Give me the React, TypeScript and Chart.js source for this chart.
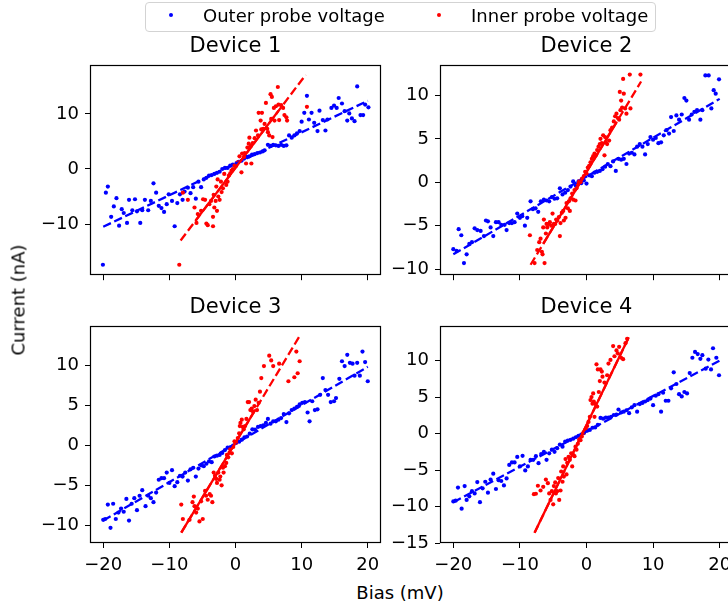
import React, { useEffect, useRef } from 'react';
import { Chart, registerables } from 'chart.js';

Chart.register(...registerables);

type Pt = [number, number];

const xTickValues = [-20, -10, 0, 10, 20];

// ---------- Device 1 ----------
const d1Outer: Pt[] = [
  [-20.05, -17.4], [-19.6, -4.3], [-19.3, -3.2], [-18.8, -8.7], [-18.4, -6.8], [-18.0, -5.3], [-17.6, -10.3], [-17.2, -7.3],
  [-16.9, -8.0], [-16.4, -9.8], [-16.1, -5.6], [-15.6, -7.5], [-15.2, -5.5], [-14.9, -7.7], [-14.4, -9.8], [-14.1, -7.5],
  [-13.7, -5.6], [-13.2, -7.5], [-12.8, -5.8], [-12.4, -2.6], [-12.0, -4.3], [-11.6, -6.7], [-11.2, -7.1], [-10.8, -7.8],
  [-10.4, -6.4], [-10.1, -4.6], [-9.6, -5.8], [-9.2, -10.4], [-8.8, -6.2], [-8.4, -4.6], [-8.0, -5.6], [-7.7, -4.1],
  [-7.2, -3.4], [-6.8, -4.4], [-6.4, -3.3], [-6.0, -5.4], [-5.6, -2.3], [-5.2, -3.3], [-4.8, -1.9], [-4.4, -1.6],
  [-4.0, -1.2], [-3.6, -1.1], [-3.2, -0.9], [-2.8, -0.7], [-2.4, -0.5], [-2.0, 0], [-1.6, 0.2], [-1.2, 0.2],
  [-0.8, 0.6], [-0.4, 0.8], [0.15, 1.05], [0.45, 1.3], [0.9, 1.5], [1.3, 1.9], [1.7, 2.2], [2.1, 2.3],
  [2.5, 2.6], [2.9, 2.7], [3.3, 2.9], [3.7, 3.0], [4.1, 3.2], [4.4, 3.4], [4.9, 4.4], [5.3, 4.2],
  [5.7, 4.4], [6.1, 4.3], [6.5, 4.2], [6.9, 4.4], [7.3, 4.2], [7.7, 4.3], [8.1, 6.1], [8.5, 5.7],
  [8.9, 6.1], [9.3, 6.5], [9.7, 6.9], [10.0, 8.6], [10.4, 10.2], [10.8, 13.3], [11.1, 9.0], [11.5, 10.2],
  [11.9, 8.4], [12.4, 6.9], [12.7, 10.6], [13.2, 8.9], [13.6, 7.0], [13.9, 9.0], [14.5, 11.1], [14.9, 11.5],
  [15.3, 11.1], [15.6, 12.9], [16.1, 11.9], [16.5, 10.5], [16.9, 8.8], [17.2, 10.1], [17.6, 9.2], [18.0, 8.7],
  [18.4, 15.0], [18.9, 9.8], [19.3, 9.8], [19.6, 11.7], [20.1, 11.2],
];
const d1Inner: Pt[] = [
  [-8.5, -17.4], [-7.96, -4.3], [-7.2, -5.6], [-6.2, -7.0], [-5.9, -9.8], [-5.7, -8.2], [-5.2, -7.6], [-4.9, -5.5],
  [-4.6, -5.6], [-4.4, -9.9], [-4.2, -10.2], [-3.95, -6.4], [-3.7, -5.8], [-3.4, -8.7], [-3.4, -10.4], [-3.3, -4.7],
  [-3.2, -7.0], [-3.0, -5.8], [-2.9, -3.2], [-2.8, -7.6], [-2.7, -1.9], [-2.6, -5.0], [-2.4, -5.6], [-2.2, -2.3],
  [-2.1, -4.2], [-1.9, -3.5], [-1.7, -0.9], [-1.4, -2.9], [-1.2, -2.3], [-1.0, -1.2], [-0.8, -0.8], [-0.6, -0.3],
  [-0.4, 0], [-0.15, 0.6], [0.1, 0.6], [0.35, 1.2], [0.6, 2.3], [0.9, -0.6], [1.0, 2.8], [1.3, 2.2],
  [1.4, 2.9], [1.6, 1.0], [1.8, 3.9], [2.0, 4.6], [2.1, 5.7], [2.3, 4.2], [2.4, 1.0], [2.6, 4.7],
  [2.9, 5.6], [3.1, 7.0], [3.4, 6.1], [3.5, 10.2], [3.8, 8.8], [3.9, 7.2], [4.0, 10.2], [4.2, 7.3],
  [4.4, 8.2], [4.6, 12.0], [4.8, 7.3], [4.9, 6.7], [5.1, 6.1], [5.3, 13.6], [5.4, 9.1], [5.5, 13.1],
  [5.6, 5.8], [5.8, 11.1], [5.9, 8.8], [6.1, 11.4], [6.4, 14.9], [6.5, 11.7], [6.6, 8.9], [6.9, 11.6],
  [7.2, 11.1], [7.4, 9.8], [7.7, 9.4], [7.8, 8.8], [10.8, 11.3],
];
const d1OuterFit: Pt[] = [[-20, -10.5], [20, 12.4]];
const d1InnerFitDashed: Pt[] = [[-8.3, -13.0], [10.6, 17.1]];
const d1InnerFitSolid: Pt[] = [[-6.0, -9.34], [6.5, 10.58]];
const d1YTicks = [-10, 0, 10];

// ---------- Device 2 ----------
const d2Outer: Pt[] = [
  [-20, -7.7], [-19.5, -7.9], [-19.2, -5.4], [-18.8, -6.1], [-18.4, -9.3], [-18.0, -8.3], [-17.6, -7.1], [-17.2, -6.9],
  [-16.8, -5.3], [-16.4, -5.5], [-15.9, -5.6], [-15.4, -6.2], [-15.1, -4.4], [-14.8, -4.5], [-14.4, -5.2], [-14.0, -6.2],
  [-13.6, -4.6], [-13.2, -4.6], [-12.8, -4.9], [-12.3, -4.9], [-12.0, -5.5], [-11.6, -4.7], [-11.2, -4.7], [-10.8, -4.6],
  [-10.4, -3.6], [-10.0, -4.1], [-9.65, -3.9], [-9.25, -5.0], [-8.9, -4.1], [-8.4, -2.2], [-8.05, -3.1], [-7.65, -3.0],
  [-7.25, -3.4], [-6.85, -2.2], [-6.4, -2.0], [-6.0, -2.1], [-5.6, -2.2], [-5.2, -1.7], [-4.8, -1.9], [-4.4, -1.85],
  [-4.0, -0.7], [-3.6, -1.4], [-3.2, -1.2], [-2.8, -0.9], [-2.4, -0.5], [-2.0, 0.1], [-1.6, -0.4], [-1.2, 0.1],
  [-0.8, -0.1], [-0.4, 0.2], [0, -0.15], [0.4, 0.8], [0.8, 0.7], [1.2, 1.1], [1.6, 1.2], [2.0, 1.3],
  [2.4, 1.5], [2.8, 1.8], [3.2, 2.1], [3.6, 1.85], [4.0, 2.4], [4.4, 1.3], [4.8, 2.7], [5.2, 2.6],
  [5.6, 2.7], [6.0, 2.1], [6.4, 3.3], [6.8, 3.4], [7.2, 3.2], [7.6, 4.1], [8.0, 4.4], [8.4, 4.1],
  [8.8, 3.2], [9.2, 4.4], [9.6, 5.2], [10.0, 4.9], [10.4, 5.1], [10.8, 4.5], [11.2, 4.6], [11.6, 5.4],
  [12.0, 6.0], [12.4, 5.6], [12.7, 7.5], [13.1, 5.9], [13.5, 7.7], [13.9, 7.2], [14.3, 7.8], [14.7, 9.7],
  [15.0, 9.4], [15.4, 7.2], [15.8, 7.8], [16.2, 8.1], [16.6, 8.3], [17.1, 7.2], [17.4, 8.3], [17.85, 12.3],
  [18.35, 12.3], [18.75, 8.5], [19.1, 10.6], [19.4, 10.2], [19.9, 11.85],
];
const d2Inner: Pt[] = [
  [-8.5, -6.1], [-7.8, -9.3], [-7.4, -7.8], [-7.1, -6.9], [-6.9, -6.5], [-6.7, -8.0], [-6.6, -8.3], [-6.5, -5.2],
  [-6.4, -4.3], [-6.3, -9.3], [-6.1, -5.9], [-6.0, -4.8], [-5.9, -5.2], [-5.7, -4.8], [-5.5, -4.6], [-5.3, -5.0],
  [-5.1, -3.6], [-4.9, -4.8], [-4.7, -4.8], [-4.55, -4.3], [-4.4, -4.4], [-4.15, -4.0], [-4.0, -6.2], [-3.9, -4.7],
  [-3.7, -3.5], [-3.5, -3.3], [-3.4, -4.4], [-3.15, -4.1], [-3.0, -2.4], [-2.8, -3.0], [-2.65, -2.2], [-2.5, -3.3],
  [-2.4, -1.85], [-2.15, -1.3], [-2.0, -2.0], [-1.8, -0.9], [-1.65, -2.1], [-1.5, -0.7], [-1.3, -0.2], [-1.1, 0.1],
  [-0.9, 0], [-0.7, 0.4], [-0.4, 0.7], [-0.2, 1.2], [0, 1.0], [0.2, 1.7], [0.4, 1.9], [0.6, 2.3],
  [0.8, 2.7], [1.0, 3.0], [1.2, 3.3], [1.4, 3.1], [1.6, 3.7], [1.8, 4.1], [2.0, 4.4], [2.1, 5.0],
  [2.3, 4.5], [2.5, 5.4], [2.7, 3.1], [2.8, 5.2], [2.9, 4.6], [3.1, 4.4], [3.4, 4.8], [3.6, 6.0],
  [3.85, 6.3], [4.1, 7.0], [4.3, 7.6], [4.5, 7.9], [4.7, 7.4], [4.9, 7.2], [5.0, 10.4], [5.1, 8.3],
  [5.2, 9.4], [5.35, 8.6], [5.5, 11.9], [5.6, 10.2], [5.8, 8.5], [6.0, 7.9], [6.5, 12.4], [6.6, 8.5],
  [8.1, 12.4],
];
const d2OuterFit: Pt[] = [[-20, -8.3], [20, 9.6]];
const d2InnerFitDashed: Pt[] = [[-8.4, -9.5], [8.2, 11.6]];
const d2InnerFitSolid: Pt[] = [[-6.5, -7.09], [4.5, 6.9]];
const d2YTicks = [-10, -5, 0, 5, 10];

// ---------- Device 3 ----------
const d3Outer: Pt[] = [
  [-20, -9.3], [-19.7, -9.2], [-19.3, -7.4], [-18.9, -10.3], [-18.5, -7.3], [-18.1, -9.2], [-17.7, -8.4], [-17.3, -7.9],
  [-16.9, -8.3], [-16.5, -6.7], [-16.1, -9.4], [-15.7, -7.3], [-15.3, -6.6], [-14.9, -8.1], [-14.5, -6.3], [-14.1, -5.6],
  [-13.6, -7.6], [-13.2, -6.3], [-12.8, -6.6], [-12.4, -7.1], [-12.0, -5.9], [-11.6, -4.3], [-11.2, -4.1], [-10.8, -4.1],
  [-10.4, -3.4], [-10.0, -4.7], [-9.6, -3.1], [-9.2, -5.1], [-8.8, -4.6], [-8.4, -3.8], [-8.0, -3.9], [-7.6, -3.4],
  [-7.2, -4.4], [-6.8, -3.0], [-6.4, -2.8], [-6.0, -3.9], [-5.6, -2.9], [-5.2, -2.5], [-4.8, -2.6], [-4.4, -2.3],
  [-4.0, -2.0], [-3.6, -2.1], [-3.2, -1.4], [-2.8, -1.3], [-2.4, -1.2], [-2.0, -0.95], [-1.6, -0.6], [-1.2, -0.3],
  [-0.8, -0.25], [-0.35, -0.05], [0.15, 0.4], [0.55, 0.45], [0.95, 0.7], [1.35, 1.0], [1.75, 1.1], [2.15, 1.45],
  [2.55, 2.0], [2.95, 1.95], [3.4, 2.3], [3.8, 2.4], [4.2, 2.5], [4.6, 2.8], [4.9, 3.3], [5.3, 2.7],
  [5.7, 3.0], [6.1, 3.0], [6.5, 3.2], [6.9, 3.4], [7.3, 3.9], [7.7, 2.9], [8.1, 4.0], [8.5, 4.4],
  [8.9, 4.6], [9.3, 4.8], [9.7, 5.1], [10.1, 5.3], [10.5, 5.4], [10.9, 4.1], [11.2, 3.0], [11.6, 5.5],
  [12.0, 4.4], [12.4, 4.5], [12.8, 6.3], [13.2, 8.4], [13.6, 6.9], [14.0, 6.3], [14.4, 5.4], [14.9, 5.5],
  [15.2, 5.9], [15.7, 8.3], [16.1, 10.5], [16.5, 9.9], [16.9, 11.3], [17.3, 10.3], [17.7, 10.2], [18.0, 8.7],
  [18.4, 10.3], [18.8, 8.7], [19.2, 11.7], [19.6, 10.4], [20.0, 8.0],
];
const d3Inner: Pt[] = [
  [-8.2, -7.4], [-7.96, -9.2], [-6.95, -9.3], [-6.5, -7.1], [-6.3, -6.4], [-6.2, -7.6], [-5.95, -8.4], [-5.7, -7.9],
  [-5.45, -9.5], [-5.2, -7.0], [-4.95, -9.2], [-4.6, -5.7], [-4.45, -6.3], [-4.2, -6.8], [-3.9, -6.1], [-3.7, -6.3],
  [-3.5, -7.1], [-3.3, -3.4], [-3.1, -3.8], [-2.9, -4.2], [-2.8, -4.7], [-2.6, -3.4], [-2.4, -4.3], [-2.3, -3.9],
  [-2.1, -5.0], [-1.9, -2.8], [-1.8, -3.4], [-1.6, -2.6], [-1.4, -2.2], [-1.3, -1.2], [-1.1, -1.5], [-0.9, -0.9],
  [-0.8, -0.5], [-0.55, -1.0], [-0.35, -0.2], [-0.15, 0.5], [0.1, 0.3], [0.35, 0.9], [0.55, 1.5], [0.65, 2.4],
  [0.75, 2.8], [0.95, 3.2], [1.1, 2.3], [1.25, 2.0], [1.45, 2.4], [1.65, 3.3], [1.85, 5.4], [2.05, 5.4],
  [2.25, 4.4], [2.45, 4.6], [2.65, 4.2], [2.85, 4.9], [3.05, 5.7], [3.25, 4.4], [3.5, 5.3], [3.7, 6.7],
  [3.9, 8.4], [4.3, 9.9], [5.1, 11.2], [5.4, 10.6], [5.7, 9.9], [6.6, 10.2], [8.0, 8.0], [8.9, 8.5],
  [9.2, 11.7], [9.4, 9.0], [9.7, 10.5],
];
const d3OuterFit: Pt[] = [[-20, -9.4], [20, 9.8]];
const d3InnerFitDashed: Pt[] = [[-8.2, -10.9], [9.7, 13.65]];
const d3InnerFitSolid: Pt[] = [[-8.2, -10.9], [3.0, 4.46]];
const d3YTicks = [-10, -5, 0, 5, 10];

// ---------- Device 4 ----------
const d4Outer: Pt[] = [
  [-20, -9.3], [-19.65, -9.2], [-19.3, -7.4], [-18.75, -10.3], [-18.3, -7.2], [-18.0, -9.1], [-17.6, -8.6], [-17.2, -7.9],
  [-16.8, -8.2], [-16.4, -6.65], [-16.0, -9.4], [-15.6, -7.5], [-15.2, -6.6], [-14.8, -8.1], [-14.4, -6.3], [-14.0, -5.5],
  [-13.6, -7.6], [-13.2, -6.4], [-12.8, -6.5], [-12.4, -7.1], [-12.0, -6.15], [-11.6, -4.3], [-11.2, -3.95], [-10.8, -3.95],
  [-10.4, -3.2], [-10.0, -4.5], [-9.6, -3.05], [-9.2, -5.05], [-8.8, -4.5], [-8.4, -3.6], [-8.0, -3.6], [-7.6, -3.1],
  [-7.2, -4.05], [-6.8, -2.8], [-6.4, -2.5], [-6.0, -3.6], [-5.6, -2.7], [-5.2, -2.2], [-4.8, -2.5], [-4.4, -2.0],
  [-4.0, -1.5], [-3.6, -1.8], [-3.2, -1.1], [-2.8, -0.95], [-2.4, -0.85], [-2.0, -0.7], [-1.6, -0.5], [-1.2, -0.3],
  [-0.8, -0.15], [-0.4, 0.05], [0.1, 0.4], [0.5, 0.5], [0.9, 0.8], [1.3, 0.85], [1.7, 1.2], [2.1, 2.15],
  [2.5, 2.05], [2.9, 2.2], [3.3, 2.2], [3.7, 2.3], [4.1, 2.55], [4.5, 2.6], [4.8, 3.3], [5.2, 2.9],
  [5.6, 3.0], [6.0, 3.2], [6.4, 2.8], [6.8, 3.6], [7.2, 3.9], [7.6, 3.0], [8.0, 4.05], [8.4, 4.2],
  [8.8, 4.4], [9.2, 4.6], [9.6, 4.8], [10.0, 3.9], [10.4, 5.2], [10.8, 5.4], [11.2, 3.0], [11.5, 5.6],
  [11.9, 4.5], [12.3, 4.5], [12.7, 6.2], [13.1, 8.4], [13.5, 6.8], [13.9, 5.4], [14.3, 5.1], [14.7, 5.7],
  [15.1, 5.5], [15.5, 8.3], [15.9, 10.4], [16.3, 11.2], [16.7, 10.9], [17.1, 10.25], [17.4, 10.75], [17.9, 8.9],
  [18.3, 10.15], [18.7, 8.8], [19.0, 11.7], [19.5, 10.4], [19.9, 8.0],
];
const d4Inner: Pt[] = [
  [-7.9, -8.3], [-7.6, -8.25], [-7.3, -7.15], [-6.9, -7.8], [-6.5, -7.3], [-6.1, -6.3], [-5.8, -6.8], [-5.6, -8.2],
  [-5.4, -9.1], [-5.2, -7.9], [-5.0, -9.7], [-4.9, -7.2], [-4.7, -6.7], [-4.6, -8.2], [-4.4, -7.9], [-4.25, -6.1],
  [-4.1, -9.1], [-3.9, -7.8], [-3.8, -5.2], [-3.6, -6.6], [-3.5, -4.5], [-3.4, -5.9], [-3.15, -3.5], [-3.0, -5.6],
  [-2.9, -4.0], [-2.7, -3.2], [-2.5, -3.6], [-2.3, -2.7], [-2.15, -4.5], [-2.0, -2.9], [-1.8, -3.1], [-1.65, -1.8],
  [-1.5, -2.2], [-1.3, -1.4], [-1.1, -0.8], [-0.9, -0.9], [-0.7, -0.4], [-0.5, 0.05], [-0.3, 0.3], [-0.1, 0.7],
  [0.1, 1.05], [0.3, 1.6], [0.5, 2.3], [0.6, 4.6], [0.75, 5.0], [0.9, 4.1], [1.0, 5.5], [1.1, 4.4],
  [1.2, 2.3], [1.35, 4.05], [1.5, 9.5], [1.6, 3.7], [1.7, 8.8], [1.85, 5.7], [2.0, 7.2], [2.1, 8.8],
  [2.3, 8.5], [2.4, 7.8], [2.7, 7.0], [3.1, 8.0], [3.3, 9.6], [3.6, 10.1], [4.0, 12.0], [4.2, 10.6],
  [4.5, 11.4], [4.7, 11.0], [4.9, 11.9], [5.2, 10.4], [5.5, 10.2], [5.85, 12.4], [6.1, 13.0],
];
const d4OuterFit: Pt[] = [[-20, -9.4], [20, 10.0]];
const d4InnerFitDashed: Pt[] = [[-7.8, -13.6], [6.35, 13.2]];
const d4InnerFitSolid: Pt[] = [[-7.8, -13.6], [6.35, 13.2]];
const d4YTicks = [-15, -10, -5, 0, 5, 10];

const titles = ['Device 1', 'Device 2', 'Device 3', 'Device 4'];
const legendLabels = ['Outer probe voltage', 'Inner probe voltage'];
const xLabel = 'Bias (mV)';
const yLabel = 'Current (nA)';

const BLUE = '#0000ff';
const RED = '#ff0000';
const FONT = '"DejaVu Sans", sans-serif';

interface PanelSpec {
  title: string;
  outer: Pt[];
  inner: Pt[];
  outerFit: Pt[];
  innerDash: Pt[];
  innerSolid: Pt[];
  yTicks: number[];
  yMin: number;
  yMax: number;
  left: number;
  top: number;
  width: number;
  height: number;
  yAxisWidth: number;
  xAxisHeight: number;
  padRight: number;
  xLabels: boolean;
}

const panels: PanelSpec[] = [
  { title: titles[0], outer: d1Outer, inner: d1Inner, outerFit: d1OuterFit, innerDash: d1InnerFitDashed, innerSolid: d1InnerFitSolid,
    yTicks: d1YTicks, yMin: -19.3, yMax: 18.9, left: 0, top: 28, width: 390, height: 264, yAxisWidth: 90, xAxisHeight: 9, padRight: 9, xLabels: false },
  { title: titles[1], outer: d2Outer, inner: d2Inner, outerFit: d2OuterFit, innerDash: d2InnerFitDashed, innerSolid: d2InnerFitSolid,
    yTicks: d2YTicks, yMin: -10.7, yMax: 13.5, left: 390, top: 28, width: 350, height: 264, yAxisWidth: 50, xAxisHeight: 9, padRight: 7, xLabels: false },
  { title: titles[2], outer: d3Outer, inner: d3Inner, outerFit: d3OuterFit, innerDash: d3InnerFitDashed, innerSolid: d3InnerFitSolid,
    yTicks: d3YTicks, yMin: -12.2, yMax: 14.9, left: 0, top: 289, width: 390, height: 291, yAxisWidth: 90, xAxisHeight: 37, padRight: 9, xLabels: true },
  { title: titles[3], outer: d4Outer, inner: d4Inner, outerFit: d4OuterFit, innerDash: d4InnerFitDashed, innerSolid: d4InnerFitSolid,
    yTicks: d4YTicks, yMin: -15.0, yMax: 14.75, left: 390, top: 289, width: 350, height: 291, yAxisWidth: 50, xAxisHeight: 37, padRight: 7, xLabels: true },
];

const fmt = (v: number) => (v < 0 ? '\u2212' + Math.abs(v) : String(v));
const toXY = (pts: Pt[]) => pts.map(([x, y]) => ({ x, y }));

const framePlugin = {
  id: 'frame',
  afterDatasetsDraw(chart: any) {
    const { ctx, chartArea: a } = chart;
    ctx.save();
    ctx.strokeStyle = '#000';
    ctx.lineWidth = 1.2;
    ctx.strokeRect(Math.round(a.left) + 0.5, Math.round(a.top) + 0.5,
      Math.round(a.right - a.left) - 1, Math.round(a.bottom - a.top) - 1);
    ctx.restore();
  },
};

function Panel({ spec }: { spec: PanelSpec }) {
  const ref = useRef<HTMLCanvasElement | null>(null);
  useEffect(() => {
    if (!ref.current) return;
    const pointStyle = (color: string) => ({
      showLine: false, pointRadius: 2.1, pointHoverRadius: 2.1, pointBorderWidth: 0,
      backgroundColor: color, borderColor: color,
    });
    const lineStyle = (color: string, dash: number[]) => ({
      showLine: true, pointRadius: 0, pointHoverRadius: 0, borderWidth: 2.3, borderColor: color,
      backgroundColor: color, borderDash: dash, fill: false, tension: 0,
    });
    const tickFont = { family: FONT, size: 18 };
    const chart = new Chart(ref.current, {
      type: 'scatter',
      data: {
        datasets: [
          { label: legendLabels[0], data: toXY(spec.outer), order: 4, ...pointStyle(BLUE) },
          { label: legendLabels[1], data: toXY(spec.inner), order: 3, ...pointStyle(RED) },
          { label: 'outer fit', data: toXY(spec.outerFit), order: 2, ...lineStyle(BLUE, [8.5, 3.7]) },
          { label: 'inner fit', data: toXY(spec.innerDash), order: 1, ...lineStyle(RED, [8.5, 3.7]) },
          { label: 'inner fit dense', data: toXY(spec.innerSolid), order: 0, ...lineStyle(RED, []) },
        ] as any,
      },
      options: {
        responsive: false,
        animation: false,
        devicePixelRatio: 1,
        events: [],
        layout: { padding: { left: 0, top: 0, right: spec.padRight, bottom: 0 } },
        plugins: {
          legend: { display: false },
          tooltip: { enabled: false },
          title: {
            display: true, text: spec.title, color: '#000', fullSize: false, align: 'center',
            font: { family: FONT, size: 21, weight: 'normal', lineHeight: 1.2 },
            padding: { top: 5.5, bottom: 6.3 },
          },
        },
        scales: {
          x: {
            type: 'linear', min: -22, max: 22,
            afterBuildTicks: (s: any) => { s.ticks = xTickValues.map((v) => ({ value: v })); },
            afterFit: (s: any) => { s.height = spec.xAxisHeight; },
            ticks: {
              display: true, autoSkip: false, maxRotation: 0, color: '#000', font: tickFont, padding: 7,
              callback: (v: any) => (spec.xLabels ? fmt(Number(v)) : ''),
            },
            grid: { drawOnChartArea: false, drawTicks: true, tickLength: 5, color: '#000', lineWidth: 1 },
            border: { display: false },
          },
          y: {
            type: 'linear', min: spec.yMin, max: spec.yMax,
            afterBuildTicks: (s: any) => { s.ticks = spec.yTicks.map((v) => ({ value: v })); },
            afterFit: (s: any) => { s.width = spec.yAxisWidth; },
            ticks: { color: '#000', font: tickFont, padding: 6, callback: (v: any) => fmt(Number(v)) },
            grid: { drawOnChartArea: false, drawTicks: true, tickLength: 5, color: '#000', lineWidth: 1 },
            border: { display: false },
          },
        },
      } as any,
      plugins: [framePlugin],
    });
    return () => chart.destroy();
  }, [spec]);
  return (
    <canvas
      ref={ref}
      width={spec.width}
      height={spec.height}
      style={{ position: 'absolute', left: spec.left, top: spec.top, width: spec.width, height: spec.height }}
    />
  );
}

export default function App() {
  const textStyle: React.CSSProperties = { fontFamily: FONT, fontSize: 18, color: '#000', whiteSpace: 'nowrap' };
  return (
    <div style={{ position: 'fixed', left: 0, top: 0, width: 728, height: 610, overflow: 'hidden', background: '#fff' }}>
      {panels.map((p, i) => (
        <Panel key={i} spec={p} />
      ))}
      <div style={{
        position: 'absolute', left: 145, top: 2, width: 511, height: 30, boxSizing: 'border-box',
        border: '1px solid #d3d3d3', borderRadius: 4, background: '#fff',
      }}>
        <div style={{ position: 'absolute', left: 23, top: 10, width: 4, height: 4, borderRadius: 2, background: BLUE }} />
        <div style={{ ...textStyle, position: 'absolute', left: 57, top: 0, lineHeight: '25px' }}>{legendLabels[0]}</div>
        <div style={{ position: 'absolute', left: 291, top: 10, width: 4, height: 4, borderRadius: 2, background: RED }} />
        <div style={{ ...textStyle, position: 'absolute', left: 325, top: 0, lineHeight: '25px' }}>{legendLabels[1]}</div>
      </div>
      <div style={{ ...textStyle, position: 'absolute', left: 18, top: 300, transform: 'translate(-50%, -50%) rotate(-90deg)' }}>
        {yLabel}
      </div>
      <div style={{ ...textStyle, position: 'absolute', left: 400, top: 592, transform: 'translate(-50%, -50%)' }}>
        {xLabel}
      </div>
    </div>
  );
}
